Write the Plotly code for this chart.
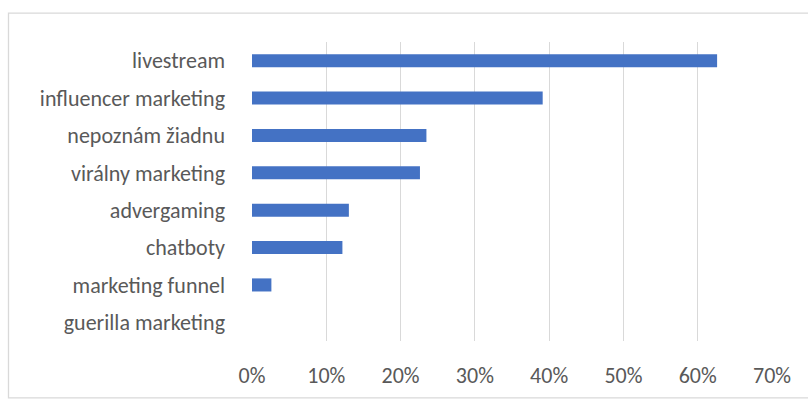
import plotly.graph_objects as go

# Survey answers (share of respondents), top to bottom
categories = [
    "livestream",
    "influencer marketing",
    "nepoznám žiadnu",
    "virálny marketing",
    "advergaming",
    "chatboty",
    "marketing funnel",
    "guerilla marketing",
]
shares = [0.6261, 0.3913, 0.2348, 0.2261, 0.1304, 0.1217, 0.0261, 0.0]

tick_values = [0, 0.1, 0.2, 0.3, 0.4, 0.5, 0.6, 0.7]
tick_labels = ["0%", "10%", "20%", "30%", "40%", "50%", "60%", "70%"]

W, H = 808, 401
L, R, T, B = 252, 36, 42, 54
plot_w = W - L - R
plot_h = H - T - B

font_family = "Carlito, Calibri, Lato, 'Liberation Sans', sans-serif"
text_color = "#595959"
font_size = 22

fig = go.Figure(
    go.Bar(
        x=shares,
        y=categories,
        orientation="h",
        marker=dict(color="#4472C4", line=dict(width=0)),
        width=0.35,
    )
)

# chart-area outline (pixel positions converted to paper coordinates)
def px_x(px):
    return (px - L) / plot_w

def px_y(py):
    return (H - B - py) / plot_h

fig.add_shape(
    type="rect",
    xref="paper", yref="paper",
    x0=px_x(8.5), x1=px_x(812), y0=px_y(405), y1=px_y(12.5),
    line=dict(color="#D9D9D9", width=1.3),
    fillcolor="rgba(0,0,0,0)",
    layer="below",
)

fig.update_layout(
    width=W,
    height=H,
    margin=dict(l=L, r=R, t=T, b=B, pad=0),
    paper_bgcolor="white",
    plot_bgcolor="white",
    showlegend=False,
    font=dict(family=font_family, size=font_size, color=text_color),
    xaxis=dict(
        range=[0, 0.7],
        tickvals=tick_values,
        ticktext=tick_labels,
        showgrid=True,
        gridcolor="#D9D9D9",
        gridwidth=1.3,
        zeroline=False,
        showline=False,
        ticks="",
        ticklabelstandoff=19,
        tickfont=dict(size=font_size, color=text_color),
    ),
    yaxis=dict(
        categoryorder="array",
        categoryarray=categories[::-1],
        range=[-0.5, len(categories) - 0.5],
        showgrid=False,
        zeroline=False,
        showline=False,
        ticks="",
        ticklabelstandoff=26,
        tickfont=dict(size=font_size, color=text_color),
    ),
)

fig.write_html("out.html")
